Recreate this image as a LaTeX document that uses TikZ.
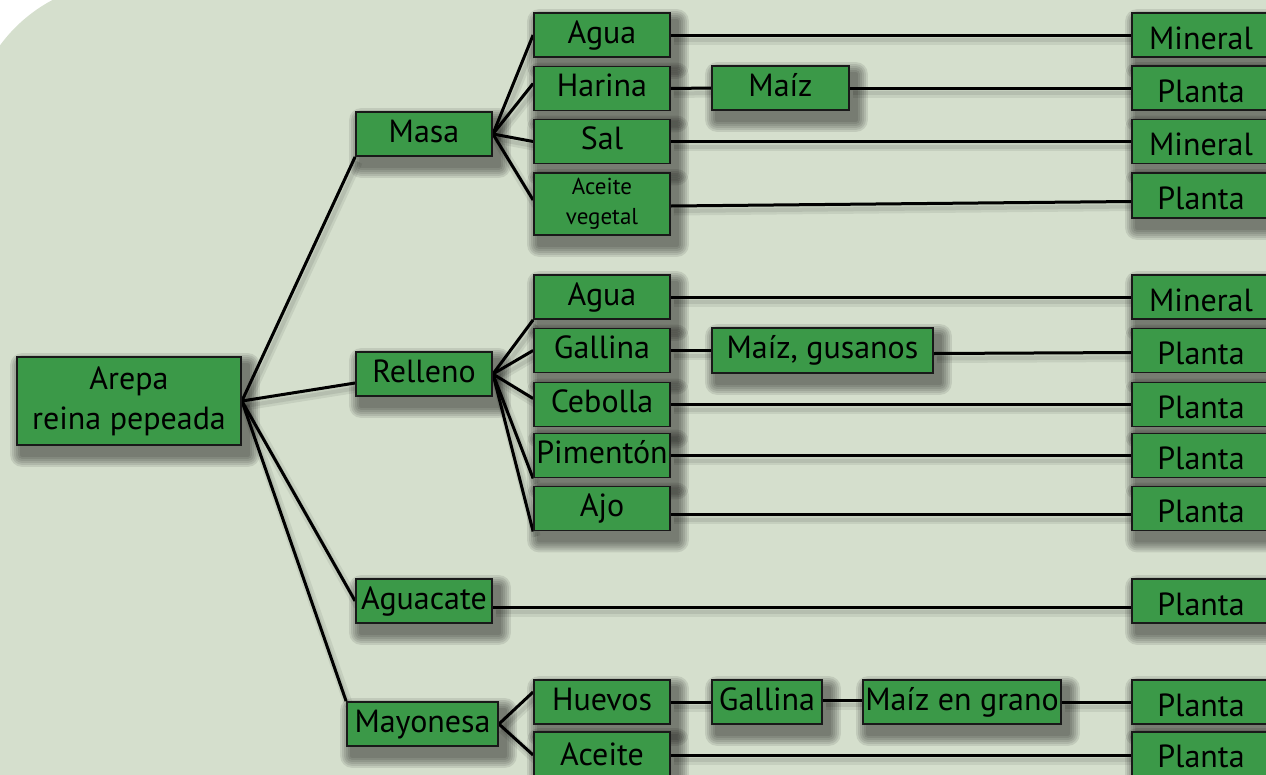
\documentclass[tikz,border=0pt]{standalone}
\usepackage{fontspec}
\setmainfont{PT Sans}
\definecolor{bgc}{HTML}{D5DFCD}
\definecolor{boxg}{HTML}{3B9948}
\pgfdeclarelayer{bgl}
\pgfsetlayers{bgl,main}
\newcommand\lnk[2]{\draw[lsha] #1 -- #2; \draw[lshb] #1 -- #2; \draw[ln] #1 -- #2;}
\begin{document}
\begin{tikzpicture}[x=1pt,y=-1pt,
  gbox/.style={draw=black!90, line width=1.8pt, fill=boxg, inner sep=0pt,
    font=\fontsize{32}{40}\selectfont},
  box/.style={gbox, minimum width=136pt, minimum height=44pt, text height=22pt, text depth=6pt},
  rbox/.style={gbox, minimum width=138pt, minimum height=44pt, text height=28pt, text depth=0pt},
  ln/.style={line width=3pt, black},
  lsha/.style={line width=9pt, black, opacity=0.07, transform canvas={xshift=3pt, yshift=-5pt}},
  lshb/.style={line width=4pt, black, opacity=0.08, transform canvas={xshift=3pt, yshift=-5pt}},
  shd/.style={black, opacity=0.09}
]
\useasboundingbox (0,0) rectangle (1266,774);
% root and first level
\node[gbox, minimum width=224pt, minimum height=88pt, align=center] (root) at (129,401) {Arepa\\reina pepeada};
\node[box] (masa) at (424,134) {Masa};
\node[box] (relleno) at (424,374) {Relleno};
\node[box] (aguacate) at (424,601) {Aguacate};
\node[box, minimum width=151pt] (mayonesa) at (422.5,724) {Mayonesa};
% Masa children
\node[box] (agua1) at (602,35) {Agua};
\node[box] (harina) at (602,88.5) {Harina};
\node[box] (sal) at (602,141.5) {Sal};
\node[gbox, minimum width=136pt, minimum height=62pt, align=center, font=\fontsize{23}{30}\selectfont] (aceite1) at (602,204) {Aceite\\vegetal};
\node[box, minimum width=137pt] (maiz) at (780.5,88) {Maíz};
% Relleno children
\node[box] (agua2) at (602,297) {Agua};
\node[box] (gallina1) at (602,350.5) {Gallina};
\node[box] (cebolla) at (602,404.5) {Cebolla};
\node[box] (pimenton) at (602,455.5) {Pimentón};
\node[box] (ajo) at (602,508.5) {Ajo};
\node[box, minimum width=221pt, minimum height=45pt] (maizg) at (822.5,350.5) {Maíz, gusanos};
% Mayonesa children
\node[box] (huevos) at (602,702) {Huevos};
\node[box, minimum height=46pt, text height=24pt, text depth=4pt] (aceite2) at (602,755) {Aceite};
\node[box, minimum width=110pt] (gallina2) at (767,702) {Gallina};
\node[box, minimum width=198pt] (maizgrano) at (962,702) {Maíz en grano};
% right column
\node[rbox] (r1) at (1201,35) {Mineral};
\node[rbox] (r2) at (1201,88) {Planta};
\node[rbox] (r3) at (1201,141.5) {Mineral};
\node[rbox, minimum height=45pt] (r4) at (1201,195.5) {Planta};
\node[rbox] (r5) at (1201,297) {Mineral};
\node[rbox] (r6) at (1201,350.5) {Planta};
\node[rbox] (r7) at (1201,404.5) {Planta};
\node[rbox] (r8) at (1201,455.5) {Planta};
\node[rbox] (r9) at (1201,508.5) {Planta};
\node[rbox] (r10) at (1201,601) {Planta};
\node[rbox] (r11) at (1201,702) {Planta};
\node[rbox, minimum height=46pt, text height=24pt] (r12) at (1201,755) {Planta};
\begin{pgfonlayer}{bgl}
\begin{scope}
\clip (0,0) rectangle (1266,774);
\fill[bgc, rounded corners=155pt] (-30,-18) rectangle (1400,900);
\end{scope}
% box shadows
\foreach \n in {root,masa,relleno,aguacate,mayonesa,agua1,harina,sal,aceite1,maiz,agua2,gallina1,cebolla,pimenton,ajo,maizg,huevos,aceite2,gallina2,maizgrano,r1,r2,r3,r4,r5,r6,r7,r8,r9,r10,r11,r12}{
  \foreach \k in {0,...,5}{
    \pgfmathsetmacro\e{(6-\k)*2}
    \fill[shd, rounded corners=\e pt] ([xshift=6pt-\e pt, yshift=-9pt+\e pt]\n.north west) rectangle ([xshift=6pt+\e pt, yshift=-9pt-\e pt]\n.south east);
  }
}
% root links
\lnk{(root.east)}{(masa.south west)}
\lnk{(root.east)}{([yshift=-9pt]relleno.west)}
\lnk{(root.east)}{(aguacate.west)}
\lnk{(root.east)}{(mayonesa.north west)}
% masa links
\lnk{(masa.east)}{(agua1.west)}
\lnk{(masa.east)}{([yshift=5pt]harina.west)}
\lnk{(masa.east)}{(sal.west)}
\lnk{(masa.east)}{([yshift=4pt]aceite1.west)}
\lnk{(agua1.east)}{(r1.west)}
\lnk{(harina.east)}{(maiz.west)}
\lnk{(maiz.east)}{(r2.west)}
\lnk{(sal.east)}{(r3.west)}
\lnk{([yshift=-2pt]aceite1.east)}{([yshift=-6pt]r4.west)}
% relleno links
\lnk{(relleno.east)}{(agua2.south west)}
\lnk{(relleno.east)}{(gallina1.west)}
\lnk{(relleno.east)}{([yshift=6pt]cebolla.west)}
\lnk{(relleno.east)}{(pimenton.south west)}
\lnk{(relleno.east)}{(ajo.south west)}
\lnk{(agua2.east)}{(r5.west)}
\lnk{(gallina1.east)}{(maizg.west)}
\lnk{([yshift=-3pt]maizg.east)}{([yshift=-2pt]r6.west)}
\lnk{(cebolla.east)}{(r7.west)}
\lnk{(pimenton.east)}{(r8.west)}
\lnk{([yshift=-6pt]ajo.east)}{([yshift=-6pt]r9.west)}
% aguacate link
\lnk{([yshift=-6pt]aguacate.east)}{([yshift=-6pt]r10.west)}
% mayonesa links
\lnk{(mayonesa.east)}{([yshift=10pt]huevos.west)}
\lnk{(mayonesa.east)}{(aceite2.west)}
\lnk{(huevos.east)}{(gallina2.west)}
\lnk{([yshift=2pt]gallina2.east)}{([yshift=2pt]maizgrano.west)}
\lnk{(maizgrano.east)}{(r11.west)}
\lnk{(aceite2.east)}{(r12.west)}
\end{pgfonlayer}
\end{tikzpicture}
\end{document}
